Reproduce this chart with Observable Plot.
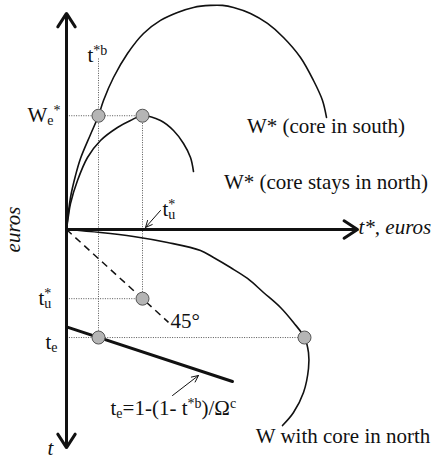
<!DOCTYPE html>
<html>
<head>
<meta charset="utf-8">
<script src="https://cdn.jsdelivr.net/npm/d3@7"></script>
<script src="https://cdn.jsdelivr.net/npm/@observablehq/plot@0.6"></script>
<style>
  html, body { margin: 0; padding: 0; background: #fff; }
  svg { display: block; }
</style>
</head>
<body>
<div id="chart"></div>
<script>
// W* when the core relocates to the south, against t*
const southT = [0, 0.04, 0.09, 0.14, 0.24, 0.32, 0.37, 0.47, 0.61, 0.77, 0.94, 1.11, 1.27, 1.44, 1.56, 1.67, 1.84, 2.01, 2.17, 2.34, 2.47, 2.56, 2.60];
const southW = [0, 0.352, 0.593, 0.780, 1.044, 1.25, 1.418, 1.670, 1.934, 2.154, 2.297, 2.385, 2.440, 2.462, 2.462, 2.440, 2.374, 2.264, 2.110, 1.890, 1.637, 1.418, 1.231];

// W* when the core stays in the north, against t*
const stayT = [0, 0.02, 0.04, 0.11, 0.21, 0.34, 0.51, 0.64, 0.76, 0.94, 1.07, 1.17, 1.24, 1.27];
const stayW = [0, 0.154, 0.286, 0.538, 0.791, 0.978, 1.121, 1.198, 1.25, 1.198, 1.088, 0.945, 0.791, 0.637];

// W with the core in the north: euros (rightward) against t (downward)
const northW = [0, 0.34, 0.67, 1.01, 1.34, 1.47, 1.64, 1.81, 1.97, 2.14, 2.27, 2.38, 2.42, 2.42, 2.37, 2.27, 2.16];
const northTax = [0, 0.033, 0.077, 0.143, 0.231, 0.308, 0.418, 0.538, 0.692, 0.857, 1.022, 1.187, 1.352, 1.527, 1.791, 2.011, 2.154];

// Key values
const tStarB = 0.32;   // t*b
const tStarU = 0.76;   // t*u
const WeStar = 1.25;   // We*
const tE = 1.187;      // te
const WatTe = 2.38;    // W (core in north) at t = te

// te = 1 - (1 - t*b)/Ω^c, drawn against t*
const teLineT = [0, 1.66];
const teLineTax = [1.07, 1.67];

// Axis extents
const axisRight = 2.91, axisUp = 2.374, axisDown = 2.396;
// Dashed 45° line end
const diagEnd = 1.02;

const toPts = (xs, ys, sign = 1) => xs.map((x, i) => ({x, y: sign * ys[i]}));
const south = toPts(southT, southW);
const stay = toPts(stayT, stayW);
const north = toPts(northW, northTax, -1);
const teLine = toPts(teLineT, teLineTax, -1);

const serif = "Liberation Serif, Times New Roman, serif";
const FS = 21;

const dotted = [
  {x1: 0, y1: WeStar, x2: tStarU, y2: WeStar},
  {x1: tStarB, y1: 1.879, x2: tStarB, y2: -tE},
  {x1: tStarU, y1: WeStar, x2: tStarU, y2: -tStarU},
  {x1: 0, y1: -tStarU, x2: tStarU, y2: -tStarU},
  {x1: 0, y1: -tE, x2: WatTe, y2: -tE}
];

const dots = [
  {x: tStarB, y: WeStar},
  {x: tStarU, y: WeStar},
  {x: tStarU, y: -tStarU},
  {x: tStarB, y: -tE},
  {x: WatTe, y: -tE}
];

// Upright labels, anchored at their left edge or centre
const labelsStart = [
  {x: -0.39, y: WeStar, text: "W_e^*"},
  {x: 0.21, y: 1.909, text: "t^{*b}"},
  {x: 0.96, y: 0.227, text: "t^*_u"},
  {x: -0.28, y: -tStarU, text: "t^*_u"},
  {x: -0.21, y: -1.234, text: "t_e"},
  {x: 1.04, y: -1.01, text: "45°"},
  {x: 0.44, y: -1.967, text: "t_e=1-(1- t^{*b})/Ω^c"}
];
const labelsMiddle = [
  {x: 2.595, y: 1.135, text: "W* (core in south)"},
  {x: 2.595, y: 0.524, text: "W* (core stays in north)"},
  {x: 2.765, y: -2.275, text: "W with core in north"}
];

// Italic axis names
const axisNames = [
  {x: axisRight + 0.01, y: 0.03, text: "t*, euros", anchor: "start"},
  {x: -0.16, y: -2.405, text: "t", anchor: "middle"}
];
const yAxisName = [{x: -0.53, y: 0, text: "euros"}];

const pointers = [
  {x1: 0.94, y1: 0.209, x2: 0.79, y2: 0.022},
  {x1: 1.06, y1: -1.824, x2: 1.32, y2: -1.604}
];

const axes = [
  {x1: 0, y1: 0, x2: 0, y2: axisUp},
  {x1: 0, y1: 0, x2: 0, y2: -axisDown},
  {x1: 0, y1: 0, x2: axisRight, y2: 0}
];

const ink = "#111";
const textOpts = {x: "x", y: "y", text: "text", fontSize: FS, fontFamily: serif, fill: ink, lineAnchor: "middle"};

const chart = Plot.plot({
  width: 439,
  height: 458,
  margin: 0,
  x: {domain: [-0.66, 3.73], axis: null},
  y: {domain: [-2.516, 2.516], axis: null},
  style: {background: "#fff", fontFamily: serif},
  marks: [
    Plot.link(dotted, {x1: "x1", y1: "y1", x2: "x2", y2: "y2", stroke: "#555", strokeWidth: 1, strokeDasharray: "1,1.4"}),
    Plot.link([{x1: 0, y1: 0, x2: diagEnd, y2: -diagEnd}], {x1: "x1", y1: "y1", x2: "x2", y2: "y2", stroke: ink, strokeWidth: 1.5, strokeDasharray: "7,5"}),
    Plot.line(south, {x: "x", y: "y", curve: "catmull-rom", stroke: ink, strokeWidth: 1.6}),
    Plot.line(stay, {x: "x", y: "y", curve: "catmull-rom", stroke: ink, strokeWidth: 1.6}),
    Plot.line(north, {x: "x", y: "y", curve: "catmull-rom", stroke: ink, strokeWidth: 1.6}),
    Plot.line(teLine, {x: "x", y: "y", stroke: ink, strokeWidth: 3}),
    Plot.arrow(axes, {x1: "x1", y1: "y1", x2: "x2", y2: "y2", stroke: ink, strokeWidth: 3, headLength: 8, headAngle: 66}),
    Plot.arrow(pointers, {x1: "x1", y1: "y1", x2: "x2", y2: "y2", stroke: ink, strokeWidth: 1, headLength: 11, headAngle: 50}),
    Plot.dot(dots, {x: "x", y: "y", r: 6.5, fill: "#b5b5b5", stroke: "#555", strokeWidth: 1}),
    Plot.text(labelsStart, {...textOpts, textAnchor: "start"}),
    Plot.text(labelsMiddle, {...textOpts, textAnchor: "middle"}),
    Plot.text(axisNames.filter(d => d.anchor === "start"), {...textOpts, textAnchor: "start", fontStyle: "italic"}),
    Plot.text(axisNames.filter(d => d.anchor === "middle"), {...textOpts, textAnchor: "middle", fontStyle: "italic"}),
    Plot.text(yAxisName, {...textOpts, textAnchor: "middle", rotate: -90, fontStyle: "italic"})
  ]
});

document.getElementById("chart").appendChild(chart);

// Turn _x / ^x markup into subscript / superscript tspans
const SCRIPT = 14, SUP = -7, SUB = 3;
d3.select(chart).selectAll("text").each(function () {
  const s = this.textContent;
  if (!/[_^]/.test(s)) return;
  const parts = [];
  let i = 0;
  while (i < s.length) {
    const c = s[i];
    if ((c === "_" || c === "^") && i + 1 < s.length) {
      let body;
      if (s[i + 1] === "{") {
        const j = s.indexOf("}", i + 2);
        body = s.slice(i + 2, j);
        i = j + 1;
      } else {
        body = s[i + 1];
        i += 2;
      }
      parts.push({kind: c === "^" ? "sup" : "sub", body});
    } else {
      let j = i;
      while (j < s.length && s[j] !== "_" && s[j] !== "^") j++;
      parts.push({kind: "base", body: s.slice(i, j)});
      i = j;
    }
  }
  const el = d3.select(this);
  el.text(null);
  let shift = 0, prev = null, prevNode = null;
  for (const p of parts) {
    const target = p.kind === "sup" ? SUP : p.kind === "sub" ? SUB : 0;
    const ts = el.append("tspan").text(p.body);
    if (p.kind !== "base") ts.attr("font-size", SCRIPT);
    if (target !== shift) ts.attr("dy", target - shift);
    if (p.kind === "sub" && prev === "sup" && prevNode) {
      ts.attr("dx", -prevNode.getComputedTextLength());
    }
    shift = target;
    prev = p.kind;
    prevNode = ts.node();
  }
});
</script>
</body>
</html>
